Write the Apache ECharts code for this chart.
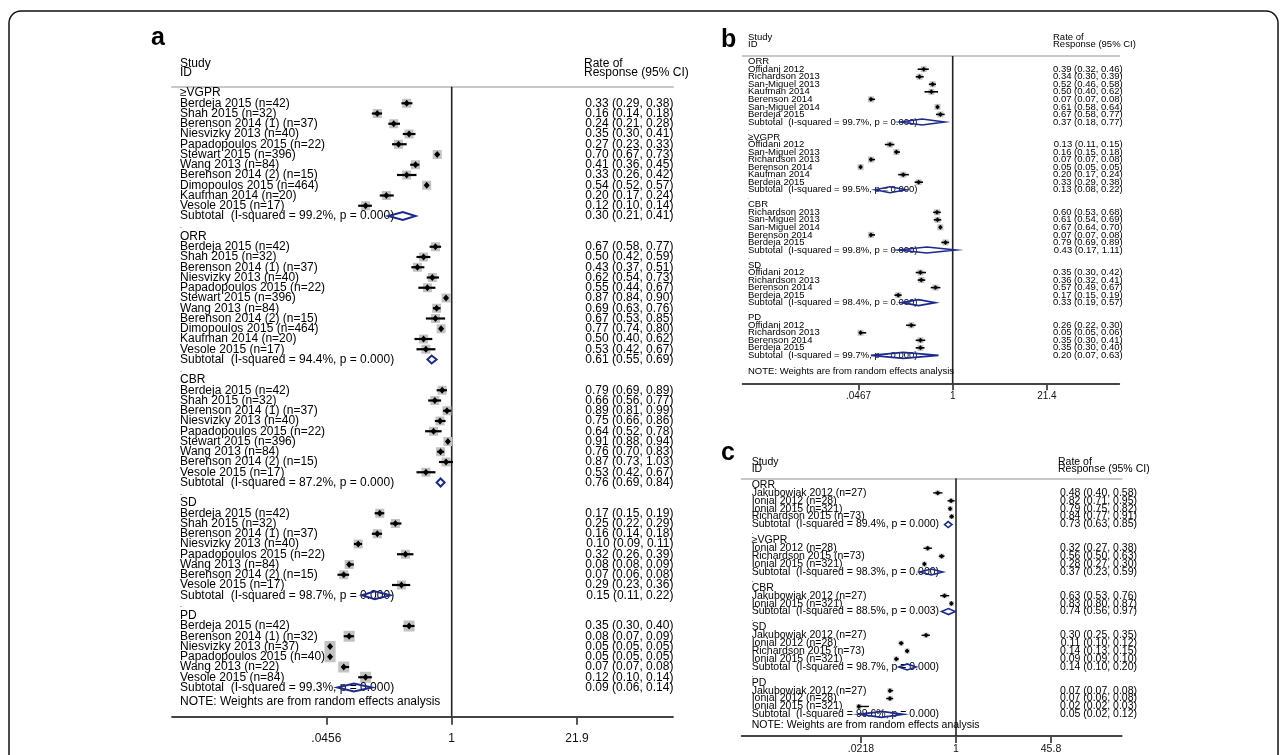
<!DOCTYPE html>
<html><head><meta charset="utf-8">
<script src="https://cdn.jsdelivr.net/npm/echarts@6/dist/echarts.min.js"></script>
<style>html,body{margin:0;padding:0;background:#fff}#chart{width:1287px;height:755px}</style>
</head><body><div id="chart"></div>
<script>
// ================= DATA =================
// Panel a
const aGroups = ["≥VGPR", "ORR", "CBR", "SD", "PD"];
const aVGPR = [
  ["Berdeja 2015 (n=42)", 0.33, 0.29, 0.38],
  ["Shah 2015 (n=32)", 0.16, 0.14, 0.18],
  ["Berenson 2014 (1) (n=37)", 0.24, 0.21, 0.28],
  ["Niesvizky 2013 (n=40)", 0.35, 0.30, 0.41],
  ["Papadopoulos 2015 (n=22)", 0.27, 0.23, 0.33],
  ["Stewart 2015 (n=396)", 0.70, 0.67, 0.73],
  ["Wang 2013 (n=84)", 0.41, 0.36, 0.45],
  ["Berenson 2014 (2) (n=15)", 0.33, 0.26, 0.42],
  ["Dimopoulos 2015 (n=464)", 0.54, 0.52, 0.57],
  ["Kaufman 2014 (n=20)", 0.20, 0.17, 0.24],
  ["Vesole 2015 (n=17)", 0.12, 0.10, 0.14]
];
const aORR = [
  ["Berdeja 2015 (n=42)", 0.67, 0.58, 0.77],
  ["Shah 2015 (n=32)", 0.50, 0.42, 0.59],
  ["Berenson 2014 (1) (n=37)", 0.43, 0.37, 0.51],
  ["Niesvizky 2013 (n=40)", 0.62, 0.54, 0.73],
  ["Papadopoulos 2015 (n=22)", 0.55, 0.44, 0.67],
  ["Stewart 2015 (n=396)", 0.87, 0.84, 0.90],
  ["Wang 2013 (n=84)", 0.69, 0.63, 0.76],
  ["Berenson 2014 (2) (n=15)", 0.67, 0.53, 0.85],
  ["Dimopoulos 2015 (n=464)", 0.77, 0.74, 0.80],
  ["Kaufman 2014 (n=20)", 0.50, 0.40, 0.62],
  ["Vesole 2015 (n=17)", 0.53, 0.42, 0.67]
];
const aCBR = [
  ["Berdeja 2015 (n=42)", 0.79, 0.69, 0.89],
  ["Shah 2015 (n=32)", 0.66, 0.56, 0.77],
  ["Berenson 2014 (1) (n=37)", 0.89, 0.81, 0.99],
  ["Niesvizky 2013 (n=40)", 0.75, 0.66, 0.86],
  ["Papadopoulos 2015 (n=22)", 0.64, 0.52, 0.78],
  ["Stewart 2015 (n=396)", 0.91, 0.88, 0.94],
  ["Wang 2013 (n=84)", 0.76, 0.70, 0.83],
  ["Berenson 2014 (2) (n=15)", 0.87, 0.73, 1.03],
  ["Vesole 2015 (n=17)", 0.53, 0.42, 0.67]
];
const aSD = [
  ["Berdeja 2015 (n=42)", 0.17, 0.15, 0.19],
  ["Shah 2015 (n=32)", 0.25, 0.22, 0.29],
  ["Berenson 2014 (1) (n=37)", 0.16, 0.14, 0.18],
  ["Niesvizky 2013 (n=40)", 0.10, 0.09, 0.11],
  ["Papadopoulos 2015 (n=22)", 0.32, 0.26, 0.39],
  ["Wang 2013 (n=84)", 0.08, 0.08, 0.09],
  ["Berenson 2014 (2) (n=15)", 0.07, 0.06, 0.08],
  ["Vesole 2015 (n=17)", 0.29, 0.23, 0.36]
];
const aPD = [
  ["Berdeja 2015 (n=42)", 0.35, 0.30, 0.40],
  ["Berenson 2014 (1) (n=32)", 0.08, 0.07, 0.09],
  ["Niesvizky 2013 (n=37)", 0.05, 0.05, 0.05],
  ["Papadopoulos 2015 (n=40)", 0.05, 0.05, 0.05],
  ["Wang 2013 (n=22)", 0.07, 0.07, 0.08],
  ["Vesole 2015 (n=84)", 0.12, 0.10, 0.14]
];
// [I-squared %, p, estimate, lower, upper]
const aSubtotals = [
  [99.2, "0.000", 0.30, 0.21, 0.41],
  [94.4, "0.000", 0.61, 0.55, 0.69],
  [87.2, "0.000", 0.76, 0.69, 0.84],
  [98.7, "0.000", 0.15, 0.11, 0.22],
  [99.3, "0.000", 0.09, 0.06, 0.14]
];
const aTicks = [0.0456, 1, 21.9];
const aTickLabels = [".0456", "1", "21.9"];

// Panel b
const bGroups = ["ORR", "≥VGPR", "CBR", "SD", "PD"];
const bORR = [
  ["Offidani 2012", 0.39, 0.32, 0.46],
  ["Richardson 2013", 0.34, 0.30, 0.39],
  ["San-Miguel 2013", 0.52, 0.46, 0.58],
  ["Kaufman 2014", 0.50, 0.40, 0.62],
  ["Berenson 2014", 0.07, 0.07, 0.08],
  ["San-Miguel 2014", 0.61, 0.58, 0.64],
  ["Berdeja 2015", 0.67, 0.58, 0.77]
];
const bVGPR = [
  ["Offidani 2012", 0.13, 0.11, 0.15],
  ["San-Miguel 2013", 0.16, 0.15, 0.18],
  ["Richardson 2013", 0.07, 0.07, 0.08],
  ["Berenson 2014", 0.05, 0.05, 0.05],
  ["Kaufman 2014", 0.20, 0.17, 0.24],
  ["Berdeja 2015", 0.33, 0.29, 0.38]
];
const bCBR = [
  ["Richardson 2013", 0.60, 0.53, 0.68],
  ["San-Miguel 2013", 0.61, 0.54, 0.69],
  ["San-Miguel 2014", 0.67, 0.64, 0.70],
  ["Berenson 2014", 0.07, 0.07, 0.08],
  ["Berdeja 2015", 0.79, 0.69, 0.89]
];
const bSD = [
  ["Offidani 2012", 0.35, 0.30, 0.42],
  ["Richardson 2013", 0.36, 0.32, 0.41],
  ["Berenson 2014", 0.57, 0.49, 0.67],
  ["Berdeja 2015", 0.17, 0.15, 0.19]
];
const bPD = [
  ["Offidani 2012", 0.26, 0.22, 0.30],
  ["Richardson 2013", 0.05, 0.05, 0.06],
  ["Berenson 2014", 0.35, 0.30, 0.41],
  ["Berdeja 2015", 0.35, 0.30, 0.40]
];
const bSubtotals = [
  [99.7, "0.000", 0.37, 0.18, 0.77],
  [99.5, "0.000", 0.13, 0.08, 0.22],
  [99.8, "0.000", 0.43, 0.17, 1.11],
  [98.4, "0.000", 0.33, 0.19, 0.57],
  [99.7, "0.000", 0.20, 0.07, 0.63]
];
const bTicks = [0.0467, 1, 21.4];
const bTickLabels = [".0467", "1", "21.4"];

// Panel c
const cGroups = ["ORR", "≥VGPR", "CBR", "SD", "PD"];
const cORR = [
  ["Jakubowiak 2012 (n=27)", 0.48, 0.40, 0.58],
  ["Ionial 2012 (n=28)", 0.82, 0.71, 0.95],
  ["Ionial 2015 (n=321)", 0.79, 0.75, 0.82],
  ["Richardson 2015 (n=73)", 0.84, 0.77, 0.91]
];
const cVGPR = [
  ["Ionial 2012 (n=28)", 0.32, 0.27, 0.38],
  ["Richardson 2015 (n=73)", 0.56, 0.50, 0.63],
  ["Ionial 2015 (n=321)", 0.28, 0.27, 0.30]
];
const cCBR = [
  ["Jakubowiak 2012 (n=27)", 0.63, 0.53, 0.76],
  ["Ionial 2015 (n=321)", 0.83, 0.80, 0.87]
];
const cSD = [
  ["Jakubowiak 2012 (n=27)", 0.30, 0.25, 0.35],
  ["Ionial 2012 (n=28)", 0.11, 0.10, 0.12],
  ["Richardson 2015 (n=73)", 0.14, 0.13, 0.15],
  ["Ionial 2015 (n=321)", 0.09, 0.09, 0.10]
];
const cPD = [
  ["Jakubowiak 2012 (n=27)", 0.07, 0.07, 0.08],
  ["Ionial 2012 (n=28)", 0.07, 0.06, 0.08],
  ["Ionial 2015 (n=321)", 0.02, 0.02, 0.03]
];
const cSubtotals = [
  [89.4, "0.000", 0.73, 0.63, 0.85],
  [98.3, "0.000", 0.37, 0.23, 0.59],
  [88.5, "0.003", 0.74, 0.56, 0.97],
  [98.7, "0.000", 0.14, 0.10, 0.20],
  [99.6, "0.000", 0.05, 0.02, 0.12]
];
const cTicks = [0.0218, 1, 45.8];
const cTickLabels = [".0218", "1", "45.8"];

const noteText = "NOTE: Weights are from random effects analysis";

// ================= LAYOUT / STYLE =================
const FONT = '"Liberation Sans", Arial, Helvetica, sans-serif';
const NAVY = '#1b2a8c';
const panels = [
  { key: 'a', groups: aGroups, studies: [aVGPR, aORR, aCBR, aSD, aPD], subs: aSubtotals,
    ticks: aTicks, tickLabels: aTickLabels,
    left: 172, right: 673, oneX: 451.7, ppd: 93.5, top: 86.7, bottom: 716.7, row0: 93, dy: 10.25,
    font: 12, tickFont: 12, labelX: 180, valueRight: 673.4, boxes: [9, 9, 9, 9, 11], ptW: 6, ptH: 7,
    ciW: 2.2, diaH: 8, diaLW: 2, tickLen: 8, labelMargin: 16, noteGap: 1.35,
    letter: { t: 'a', x: 151, y: 38 }, hdrX: 180, rateX: 584, hdrY1: 64, hdrY2: 73 },
  { key: 'b', groups: bGroups, studies: [bORR, bVGPR, bCBR, bSD, bPD], subs: bSubtotals,
    ticks: bTicks, tickLabels: bTickLabels,
    left: 742.7, right: 1119.3, oneX: 952.7, ppd: 70.8, top: 56, bottom: 383.3, row0: 61.7, dy: 7.53,
    font: 9.5, tickFont: 10, labelX: 748, valueRight: 1122.7, boxes: [6, 6, 6, 6, 6], ptW: 4.5, ptH: 5,
    ciW: 1.6, diaH: 6, diaLW: 1.6, tickLen: 7, labelMargin: 8, noteGap: 2.1,
    letter: { t: 'b', x: 721, y: 40 }, hdrX: 748, rateX: 1053, hdrY1: 37.5, hdrY2: 44 },
  { key: 'c', groups: cGroups, studies: [cORR, cVGPR, cCBR, cSD, cPD], subs: cSubtotals,
    ticks: cTicks, tickLabels: cTickLabels,
    left: 741.7, right: 1121.7, oneX: 956, ppd: 57.2, top: 478.3, bottom: 737.3, row0: 485, dy: 7.95,
    font: 10.5, tickFont: 10.5, labelX: 751.7, valueRight: 1137, boxes: [5, 5, 5, 5, 5], ptW: 4.5, ptH: 5,
    ciW: 1.4, diaH: 6, diaLW: 1.6, tickLen: 7, labelMargin: 8, noteGap: 1.35,
    letter: { t: 'c', x: 721, y: 453 }, hdrX: 751.7, rateX: 1058, hdrY1: 461.7, hdrY2: 469.5 }
];

// ================= BUILD =================
const f2 = v => v.toFixed(2);
function buildRows(p) {
  const rows = [];
  p.groups.forEach((g, gi) => {
    if (gi > 0) rows.push({ type: 'blank' });
    rows.push({ type: 'header', label: g });
    p.studies[gi].forEach(s => rows.push({ type: 'study', label: s[0], est: s[1], lo: s[2], hi: s[3], g: gi }));
    const t = p.subs[gi];
    rows.push({ type: 'subtotal', label: 'Subtotal  (I-squared = ' + t[0].toFixed(1) + '%, p = ' + t[1] + ')',
      est: t[2], lo: t[3], hi: t[4], g: gi });
  });
  rows.push({ type: 'note', label: noteText, rowPos: rows.length - 1 + p.noteGap });
  return rows;
}

const grids = [], xAxes = [], yAxes = [], series = [], graphics = [];

graphics.push({ type: 'rect', shape: { x: 9, y: 11, width: 1269, height: 770, r: 12 },
  style: { fill: 'none', stroke: '#111', lineWidth: 1.5 }, silent: true });

panels.forEach((p, pi) => {
  const rows = buildRows(p);
  const xmin = (p.left - p.oneX) / p.ppd, xmax = (p.right - p.oneX) / p.ppd;
  const ymin = (p.top - p.row0) / p.dy, ymax = (p.bottom - p.row0) / p.dy;
  grids.push({ left: p.left, top: p.top, width: p.right - p.left, height: p.bottom - p.top, containLabel: false });
  const tickPos = p.ticks.map(t => Math.log10(t));
  // bottom axis
  xAxes.push({ gridIndex: pi, type: 'value', position: 'bottom', min: xmin, max: xmax,
    axisLine: { show: true, onZero: false, lineStyle: { color: '#444', width: 1.8 } },
    axisTick: { show: true, customValues: tickPos, length: p.tickLen, inside: false, lineStyle: { color: '#444', width: 1.8 } },
    axisLabel: { show: true, customValues: tickPos, margin: p.labelMargin, color: '#111',
      fontSize: p.tickFont, fontFamily: FONT,
      formatter: v => { let k = 0, best = 1e9; tickPos.forEach((t, i) => { if (Math.abs(t - v) < best) { best = Math.abs(t - v); k = i; } }); return p.tickLabels[k]; } },
    splitLine: { show: false } });
  // top (header) line
  xAxes.push({ gridIndex: pi, type: 'value', position: 'top', min: xmin, max: xmax,
    axisLine: { show: true, onZero: false, lineStyle: { color: '#c8c8c8', width: 2 } },
    axisTick: { show: false }, axisLabel: { show: false }, splitLine: { show: false } });
  yAxes.push({ gridIndex: pi, type: 'value', inverse: true, min: ymin, max: ymax, show: false,
    axisLine: { onZero: false }, splitLine: { show: false } });

  // reference line at 1
  series.push({ type: 'line', xAxisIndex: pi * 2, yAxisIndex: pi, symbol: 'none', silent: true,
    data: [[Math.log10(1), ymin], [Math.log10(1), ymax]],
    lineStyle: { color: '#222', width: 1.6 }, z: 1 });

  series.push({
    type: 'custom', xAxisIndex: pi * 2, yAxisIndex: pi, clip: false, silent: true, z: 3,
    data: rows.map((r, i) => [r.est ? Math.log10(r.est) : 0, r.rowPos !== undefined ? r.rowPos : i]),
    renderItem: (params, api) => {
      const r = rows[params.dataIndex];
      const rowIdx = api.value(1);
      const y = api.coord([0, rowIdx])[1];
      const X = v => api.coord([Math.log10(v), rowIdx])[0];
      const kids = [];
      const txt = (x, t, align, size) => ({ type: 'text', x: x, y: y,
        style: { text: t, fill: '#000', fontSize: size || p.font, fontFamily: FONT, align: align, verticalAlign: 'middle' } });
      if (r.type === 'blank') {
        kids.push(txt(p.labelX, '.', 'left', p.font * 0.6));
      } else if (r.type === 'header' || r.type === 'note') {
        kids.push(txt(p.labelX, r.label, 'left'));
      } else if (r.type === 'study') {
        const cx = X(r.est), s = p.boxes[r.g];
        kids.push({ type: 'rect', shape: { x: cx - s / 2, y: y - s / 2, width: s, height: s }, style: { fill: '#c2c2c2' } });
        kids.push({ type: 'line', shape: { x1: X(r.lo), y1: y, x2: X(r.hi), y2: y }, style: { stroke: '#000', lineWidth: p.ciW } });
        kids.push({ type: 'polygon', shape: { points: [[cx - p.ptW / 2, y], [cx, y - p.ptH / 2], [cx + p.ptW / 2, y], [cx, y + p.ptH / 2]] }, style: { fill: '#000' } });
        kids.push(txt(p.labelX, r.label, 'left'));
        kids.push(txt(p.valueRight, f2(r.est) + ' (' + f2(r.lo) + ', ' + f2(r.hi) + ')', 'right'));
      } else if (r.type === 'subtotal') {
        kids.push(txt(p.labelX, r.label, 'left'));
        const cx = X(r.est), h = p.diaH;
        kids.push({ type: 'polygon', shape: { points: [[X(r.lo), y], [cx, y - h / 2], [X(r.hi), y], [cx, y + h / 2]] },
          style: { fill: 'none', stroke: NAVY, lineWidth: p.diaLW } });
        kids.push(txt(p.valueRight, f2(r.est) + ' (' + f2(r.lo) + ', ' + f2(r.hi) + ')', 'right'));
      }
      return { type: 'group', children: kids };
    }
  });

  // panel letter and column headers
  graphics.push({ type: 'text', x: p.letter.x, y: p.letter.y, silent: true,
    style: { text: p.letter.t, fill: '#000', fontSize: 25, fontWeight: 'bold', fontFamily: FONT, align: 'left', verticalAlign: 'middle' } });
  [['Study', p.hdrX, p.hdrY1], ['ID', p.hdrX, p.hdrY2], ['Rate of', p.rateX, p.hdrY1], ['Response (95% CI)', p.rateX, p.hdrY2]]
    .forEach(h => graphics.push({ type: 'text', x: h[1], y: h[2], silent: true,
      style: { text: h[0], fill: '#000', fontSize: p.font, fontFamily: FONT, align: 'left', verticalAlign: 'middle' } }));
});

const chart = echarts.init(document.getElementById('chart'), null, { renderer: 'canvas' });
chart.setOption({
  animation: false,
  backgroundColor: '#fff',
  grid: grids, xAxis: xAxes, yAxis: yAxes, series: series, graphic: graphics
});
</script></body></html>
